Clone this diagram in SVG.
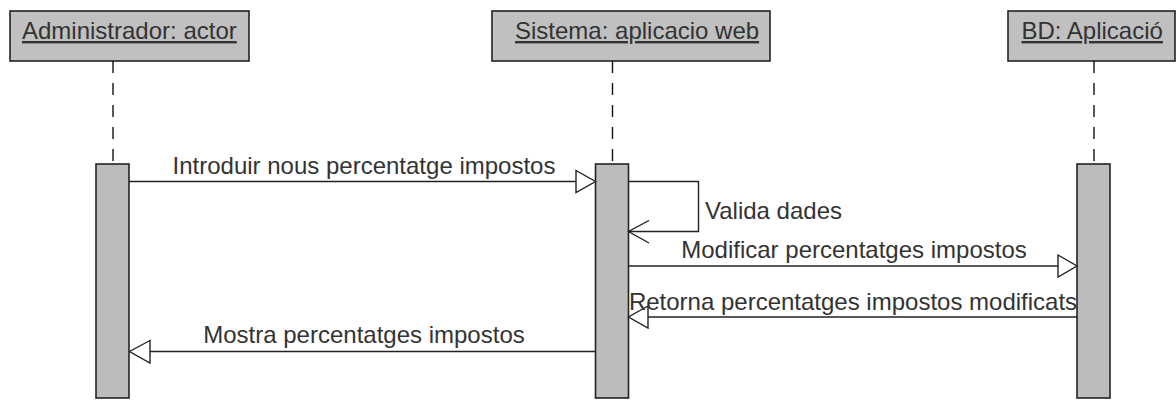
<svg xmlns="http://www.w3.org/2000/svg" width="1176" height="401" viewBox="0 0 1176 401">
  <style>
    .head { fill: #c0c0c0; stroke: #222; stroke-width: 1.6; }
    .act { fill: #bcbcbc; stroke: #222; stroke-width: 1.6; }
    .life { stroke: #111; stroke-width: 1.4; stroke-dasharray: 12 10; fill: none; }
    .msg { stroke: #222; stroke-width: 1.4; fill: none; }
    .tri { fill: #fff; stroke: #222; stroke-width: 1.4; }
    .htxt { font-family: "Liberation Sans", Arial, sans-serif; font-size: 24px; fill: #333; text-decoration: underline; }
    .lbl { font-family: "Liberation Sans", Arial, sans-serif; font-size: 24px; fill: #333; text-anchor: middle; }
    .lbls { font-family: "Liberation Sans", Arial, sans-serif; font-size: 24px; fill: #333; }
  </style>

  <g id="admin">
    <rect class="head" x="10" y="11" width="239" height="50"/>
    <text class="htxt" x="22" y="39">Administrador: actor</text>
    <line class="life" x1="113" y1="61" x2="113" y2="164"/>
    <rect class="act" x="96" y="164" width="33" height="234"/>
  </g>

  <g id="sistema">
    <rect class="head" x="492" y="11" width="278" height="50"/>
    <text class="htxt" x="515" y="39">Sistema: aplicacio web</text>
    <line class="life" x1="612.5" y1="61" x2="612.5" y2="164"/>
    <rect class="act" x="595.5" y="164" width="33" height="234"/>
  </g>

  <g id="bd">
    <rect class="head" x="1008" y="11" width="167" height="50"/>
    <text class="htxt" x="1021.5" y="39">BD: Aplicació</text>
    <line class="life" x1="1094" y1="61" x2="1094" y2="164"/>
    <rect class="act" x="1077" y="164" width="33" height="234"/>
  </g>

  <g id="connectors">
    <!-- 1 Introduir -->
    <line class="msg" x1="129" y1="181.5" x2="576" y2="181.5"/>
    <polygon class="tri" points="576,170.5 595.5,181.5 576,192.5"/>
    <!-- self Valida dades -->
    <polyline class="msg" points="628.5,181.5 698.5,181.5 698.5,231.5 628.5,231.5"/>
    <polyline class="msg" points="649,220.5 628.5,231.5 649,243"/>
    <!-- Modificar -->
    <line class="msg" x1="628.5" y1="266" x2="1058" y2="266"/>
    <polygon class="tri" points="1058,255 1077,266 1058,277"/>
    <!-- Retorna -->
    <line class="msg" x1="1077" y1="317" x2="648" y2="317"/>
    <polygon class="tri" points="648,306 628.5,317 648,328"/>
    <!-- Mostra -->
    <line class="msg" x1="595.5" y1="351.5" x2="150" y2="351.5"/>
    <polygon class="tri" points="150,340.5 129.5,351.5 150,363"/>
  </g>

  <g id="labels">
    <text class="lbl" x="364" y="174">Introduir nous percentatge impostos</text>
    <text class="lbls" x="705" y="219">Valida dades</text>
    <text class="lbl" x="854" y="258">Modificar percentatges impostos</text>
    <text class="lbl" x="853" y="310">Retorna percentatges impostos modificats</text>
    <text class="lbl" x="364" y="343">Mostra percentatges impostos</text>
  </g>
</svg>
